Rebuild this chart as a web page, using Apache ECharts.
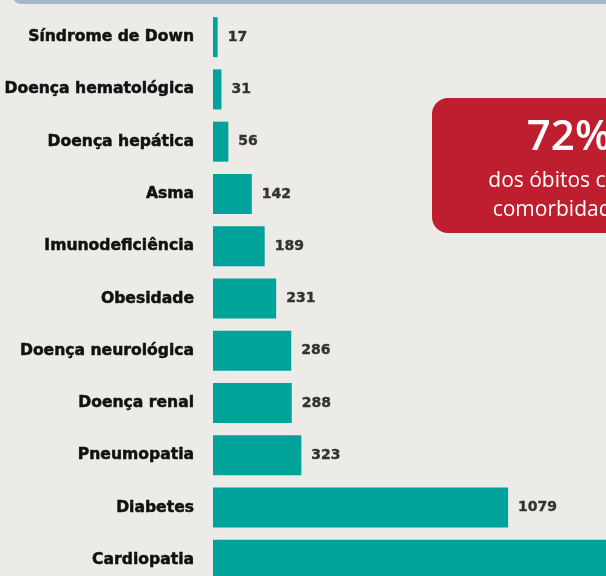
<!DOCTYPE html>
<html>
<head>
<meta charset="utf-8">
<script src="https://cdn.jsdelivr.net/npm/echarts@6/dist/echarts.min.js"></script>
<style>
  html, body { margin: 0; padding: 0; background: #ecebe8; overflow: hidden; }
  /* um pouco mais alto que a janela: a última barra fica cortada como no original */
  #chart { width: 606px; height: 600px; }
</style>
</head>
<body>
<div id="chart"></div>
<script>
// comorbidades (ordem de cima para baixo)
const categories = [
  'Síndrome de Down', 'Doença hematológica', 'Doença hepática', 'Asma',
  'Imunodeficiência', 'Obesidade', 'Doença neurológica', 'Doença renal',
  'Pneumopatia', 'Diabetes', 'Cardiopatia'
]
const values = [17, 31, 56, 142, 189, 231, 286, 288, 323, 1079, 1750]

const highlightValue = '72%'
const highlightText = ['dos óbitos com', 'comorbidades']

const chart = echarts.init(document.getElementById('chart'))

const option = {
  backgroundColor: '#ecebe8',
  animation: false,
  grid: { left: 213, right: 0, top: 11, height: 575, containLabel: false },
  xAxis: {
    type: 'value',
    min: 0,
    max: 1437,
    show: false
  },
  yAxis: {
    type: 'category',
    inverse: true,
    data: categories,
    axisLine: { show: false },
    axisTick: { show: false },
    axisLabel: {
      margin: 19,
      color: '#111',
      fontFamily: 'DejaVu Sans',
      fontWeight: 'bold',
      fontSize: 15.6,
      textBorderColor: '#111',
      textBorderWidth: 0.5
    }
  },
  series: [
    {
      type: 'bar',
      data: values,
      barWidth: 40,
      itemStyle: { color: '#00a39a' },
      label: {
        show: true,
        position: 'right',
        distance: 10,
        color: '#333',
        fontFamily: 'DejaVu Sans',
        fontWeight: 'bold',
        fontSize: 14,
        textBorderColor: '#333',
        textBorderWidth: 0.4
      }
    }
  ],
  graphic: [
    // faixa superior
    {
      type: 'rect',
      shape: { x: 13, y: -12, width: 620, height: 16, r: 8 },
      style: { fill: '#a9b7cb' },
      z: 10
    },
    // caixa vermelha
    {
      type: 'rect',
      shape: { x: 432, y: 98, width: 240, height: 135, r: 16 },
      style: { fill: '#be1e2d' },
      z: 10
    },
    {
      type: 'text',
      x: 569, y: 138,
      style: {
        text: highlightValue,
        fill: '#fff',
        font: '600 42px "Open Sans"',
        align: 'center',
        verticalAlign: 'middle'
      },
      z: 11
    },
    {
      type: 'text',
      x: 563, y: 181,
      style: {
        text: highlightText[0],
        fill: '#fff',
        font: '21px "Open Sans"',
        align: 'center',
        verticalAlign: 'middle'
      },
      z: 11
    },
    {
      type: 'text',
      x: 563, y: 210,
      style: {
        text: highlightText[1],
        fill: '#fff',
        font: '21px "Open Sans"',
        align: 'center',
        verticalAlign: 'middle'
      },
      z: 11
    }
  ]
}

chart.setOption(option)
</script>
</body>
</html>
